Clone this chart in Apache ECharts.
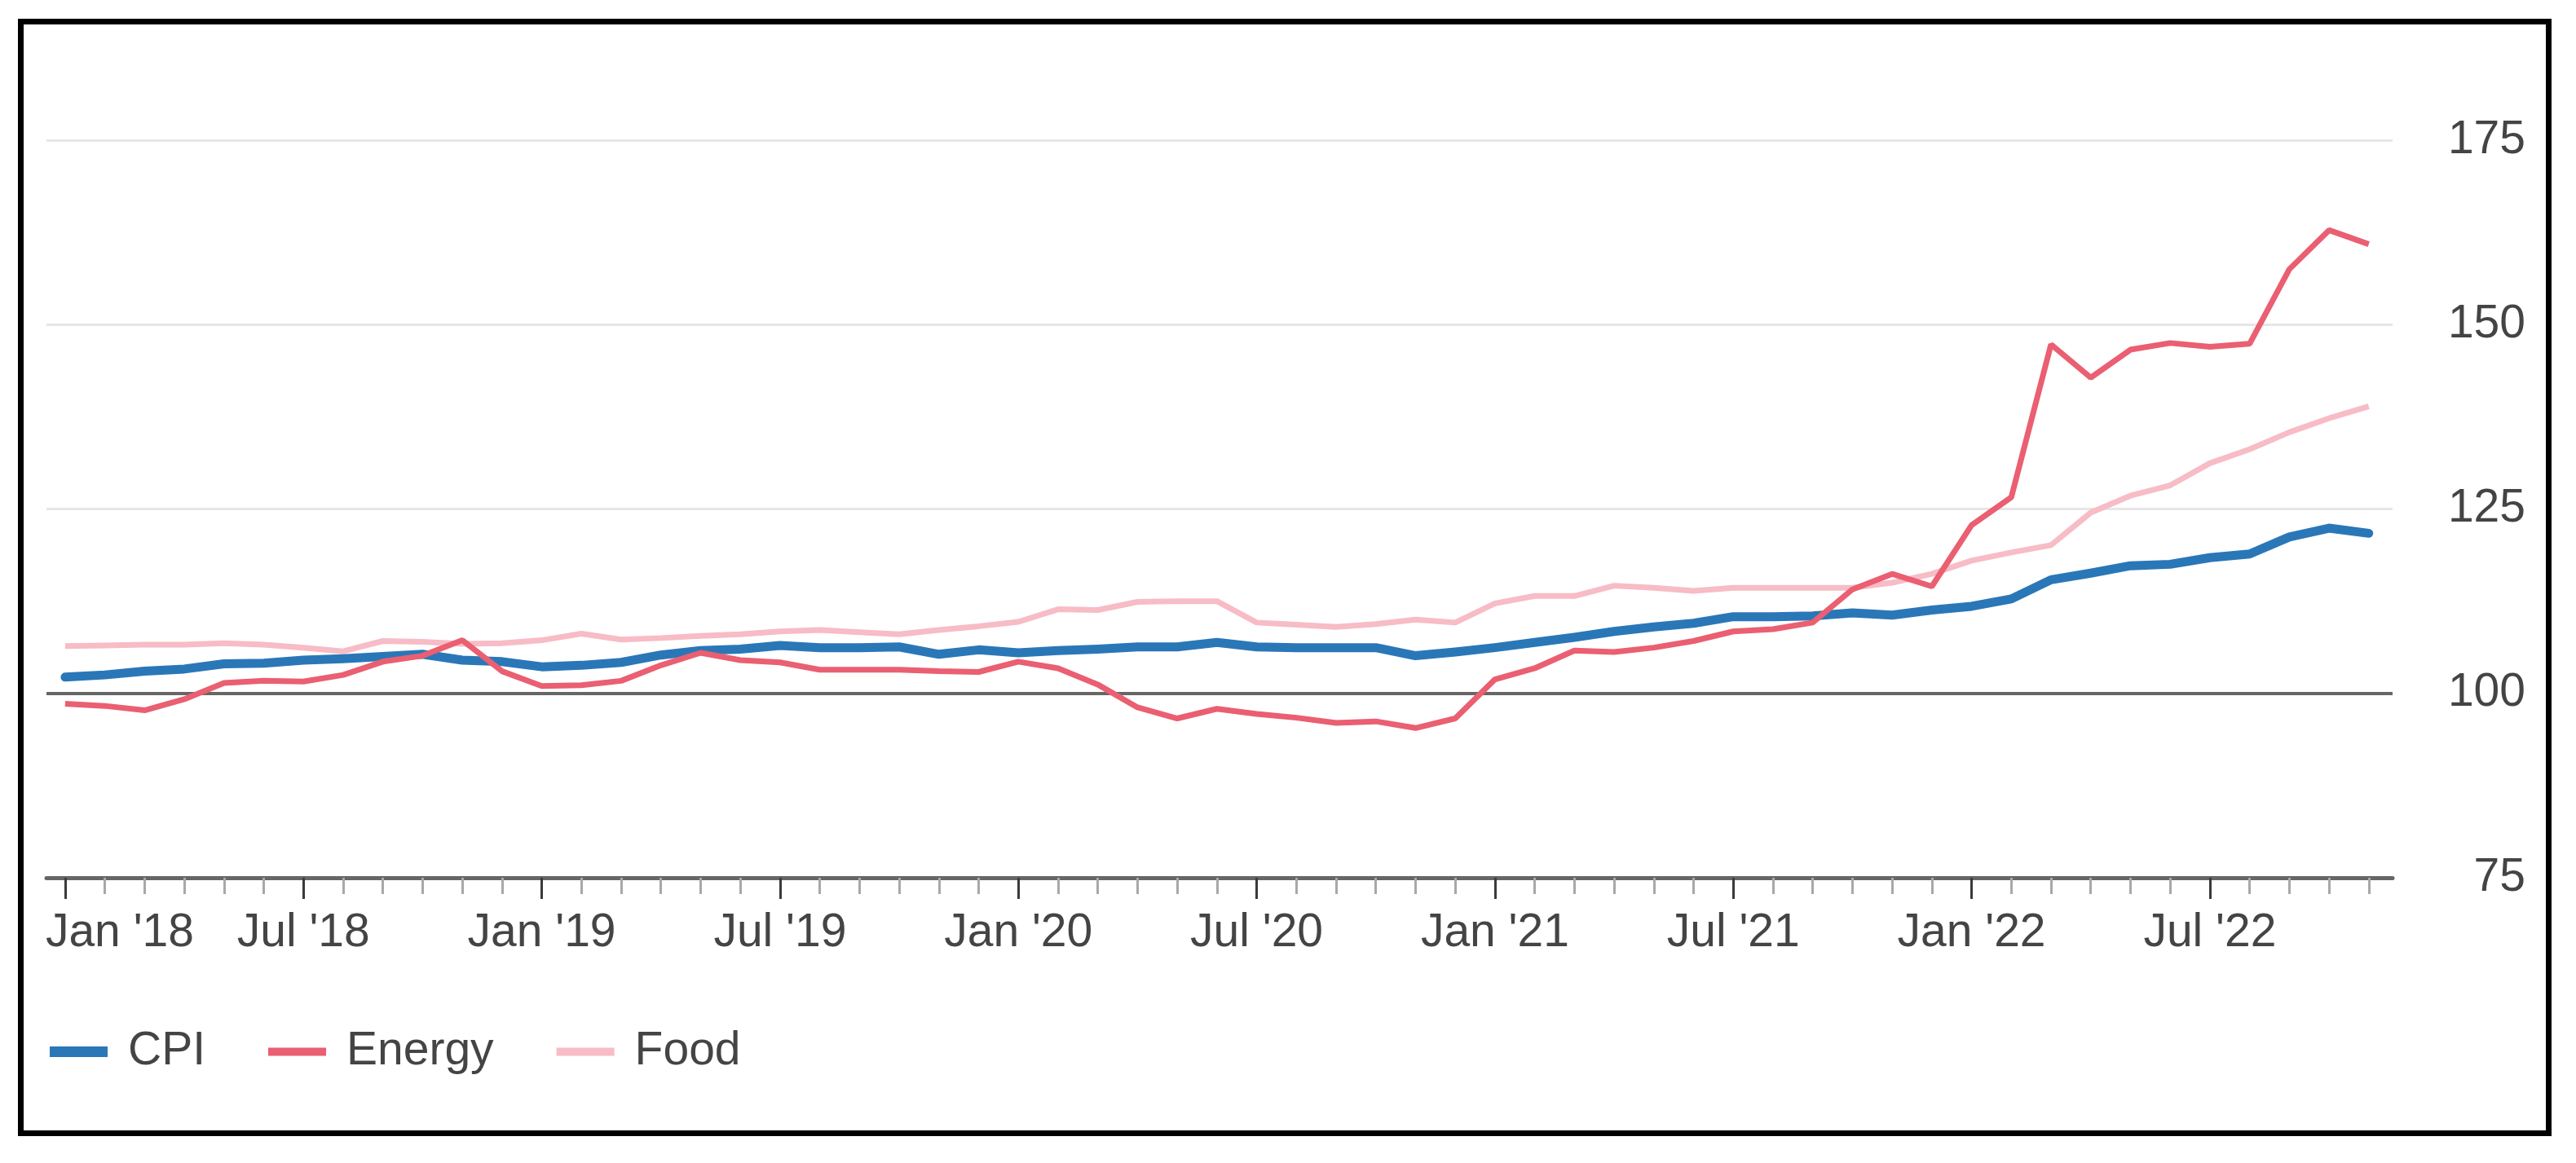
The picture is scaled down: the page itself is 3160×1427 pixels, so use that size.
<!DOCTYPE html>
<html>
<head>
<meta charset="utf-8">
<script src="https://cdn.jsdelivr.net/npm/echarts@6/dist/echarts.min.js"></script>
<style>
html,body{margin:0;padding:0;background:#fff;}
#chart{position:absolute;left:0;top:0;width:3160px;height:1427px;}
#frame{position:absolute;left:22px;top:23px;width:3108px;height:1371px;border:7px solid #000;box-sizing:border-box;pointer-events:none;}
</style>
</head>
<body>
<div id="chart"></div>
<div id="frame"></div>
<script>
const months = [
  "Jan 2018","Feb 2018","Mar 2018","Apr 2018","May 2018","Jun 2018","Jul 2018","Aug 2018","Sep 2018","Oct 2018","Nov 2018","Dec 2018",
  "Jan 2019","Feb 2019","Mar 2019","Apr 2019","May 2019","Jun 2019","Jul 2019","Aug 2019","Sep 2019","Oct 2019","Nov 2019","Dec 2019",
  "Jan 2020","Feb 2020","Mar 2020","Apr 2020","May 2020","Jun 2020","Jul 2020","Aug 2020","Sep 2020","Oct 2020","Nov 2020","Dec 2020",
  "Jan 2021","Feb 2021","Mar 2021","Apr 2021","May 2021","Jun 2021","Jul 2021","Aug 2021","Sep 2021","Oct 2021","Nov 2021","Dec 2021",
  "Jan 2022","Feb 2022","Mar 2022","Apr 2022","May 2022","Jun 2022","Jul 2022","Aug 2022","Sep 2022","Oct 2022","Nov 2022"
];
const tickLabels = ["Jan '18","Jul '18","Jan '19","Jul '19","Jan '20","Jul '20","Jan '21","Jul '21","Jan '22","Jul '22"];
const tickMonths = ["Jan 2018","Jul 2018","Jan 2019","Jul 2019","Jan 2020","Jul 2020","Jan 2021","Jul 2021","Jan 2022","Jul 2022"];
const yTicks = [75, 100, 125, 150, 175];

const cpi = [
  102.2,102.5,103.0,103.3,104.0,104.1,104.5,104.7,105.0,105.3,104.5,104.3,
  103.6,103.8,104.2,105.2,105.8,106.0,106.5,106.2,106.2,106.3,105.3,105.9,
  105.5,105.8,106.0,106.3,106.3,106.9,106.3,106.2,106.2,106.2,105.1,105.6,
  106.2,106.9,107.6,108.4,109.0,109.5,110.4,110.4,110.5,110.9,110.6,111.3,
  111.8,112.8,115.4,116.3,117.3,117.5,118.4,118.9,121.2,122.4,121.7
];
const energy = [
  98.6,98.3,97.7,99.2,101.4,101.7,101.6,102.5,104.3,105.1,107.2,103.0,
  101.0,101.1,101.7,103.8,105.5,104.5,104.2,103.2,103.2,103.2,103.0,102.9,
  104.3,103.4,101.2,98.1,96.6,97.9,97.2,96.7,96.0,96.2,95.3,96.6,
  101.9,103.4,105.8,105.6,106.2,107.1,108.4,108.7,109.6,114.1,116.2,114.5,
  122.8,126.6,147.3,142.8,146.6,147.5,147.0,147.4,157.5,162.8,160.9
];
const food = [
  106.4,106.5,106.6,106.6,106.8,106.6,106.2,105.7,107.1,107.0,106.7,106.8,
  107.2,108.1,107.3,107.5,107.8,108.0,108.4,108.6,108.3,108.0,108.6,109.1,
  109.7,111.4,111.3,112.4,112.5,112.5,109.6,109.3,109.0,109.4,110.0,109.6,
  112.2,113.2,113.2,114.6,114.3,113.9,114.3,114.3,114.3,114.3,115.0,116.2,
  118.0,119.1,120.1,124.5,126.8,128.2,131.2,133.1,135.4,137.3,138.9
];

const FONT = "'Liberation Sans', Arial, sans-serif";
const TXT = '#444';
const allIdx = months.map((m, i) => i);
const majorIdx = tickMonths.map(m => months.indexOf(m));
const xMin = -0.47, xMax = months.length - 1 + 0.6;
const toPairs = arr => arr.map((v, i) => [i, v]);

const chart = echarts.init(document.getElementById('chart'), null, {renderer: 'canvas'});
chart.setOption({
  animation: false,
  backgroundColor: '#fff',
  grid: {left: 57, right: 225, top: 172, bottom: 350, containLabel: false},
  legend: {
    left: 56, top: 1257,
    itemWidth: 71, itemHeight: 13, itemGap: 77,
    symbolKeepAspect: true,
    textStyle: {fontFamily: FONT, fontSize: 57, color: TXT, padding: [0, 0, 0, 20]},
    data: [
      {name: 'CPI', icon: 'path://M0,0H71V13H0Z'},
      {name: 'Energy', icon: 'path://M0,0H71V10H0Z'},
      {name: 'Food', icon: 'path://M0,0H71V10H0Z'}
    ]
  },
  xAxis: [
    {
      type: 'value', min: xMin, max: xMax, position: 'bottom',
      axisLine: {show: true, lineStyle: {color: '#666', width: 5}},
      axisTick: {show: true, customValues: allIdx, length: 20, lineStyle: {color: '#a8a8a8', width: 3}},
      axisLabel: {
        show: true, customValues: majorIdx, margin: 40,
        fontFamily: FONT, fontSize: 57, color: TXT,
        formatter: v => {
          const k = majorIdx.indexOf(Math.round(v));
          if (k < 0) return '';
          return k === 0 ? '{first|' + tickLabels[k] + '}' : tickLabels[k];
        },
        rich: {first: {fontFamily: FONT, fontSize: 57, color: TXT, padding: [0, 0, 0, 134]}}
      },
      splitLine: {show: false}
    },
    {
      type: 'value', min: xMin, max: xMax, position: 'bottom',
      axisLine: {show: false},
      axisTick: {show: true, customValues: majorIdx, length: 26, lineStyle: {color: '#3a3a3a', width: 3}},
      axisLabel: {show: false},
      splitLine: {show: false}
    }
  ],
  yAxis: [
    {
      type: 'value', min: yTicks[0], max: yTicks[yTicks.length - 1], interval: 25, position: 'right',
      axisLine: {show: false}, axisTick: {show: false},
      axisLabel: {show: true, align: 'right', margin: 163, fontFamily: FONT, fontSize: 57, color: TXT},
      splitLine: {show: true, lineStyle: {color: ['rgba(0,0,0,0)', 'rgba(0,0,0,0)', '#e6e6e6', '#e6e6e6', '#e6e6e6'], width: 3}}
    },
    {
      type: 'value', min: yTicks[0], max: yTicks[yTicks.length - 1], interval: 25, position: 'right',
      axisLine: {show: false}, axisTick: {show: false}, axisLabel: {show: false},
      splitLine: {show: true, lineStyle: {color: ['rgba(0,0,0,0)', '#666666', 'rgba(0,0,0,0)', 'rgba(0,0,0,0)', 'rgba(0,0,0,0)'], width: 4}}
    }
  ],
  series: [
    {name: 'CPI', type: 'line', xAxisIndex: 0, yAxisIndex: 0, data: toPairs(cpi), symbol: 'none', showSymbol: false,
     lineStyle: {color: '#2a77b8', width: 11, cap: 'round', join: 'round'}, itemStyle: {color: '#2a77b8'}, z: 3},
    {name: 'Energy', type: 'line', xAxisIndex: 0, yAxisIndex: 0, data: toPairs(energy), symbol: 'none', showSymbol: false,
     lineStyle: {color: '#ea5f71', width: 7}, itemStyle: {color: '#ea5f71'}, z: 4},
    {name: 'Food', type: 'line', xAxisIndex: 0, yAxisIndex: 0, data: toPairs(food), symbol: 'none', showSymbol: false,
     lineStyle: {color: '#f7bcc6', width: 7}, itemStyle: {color: '#f7bcc6'}, z: 2}
  ]
});
</script>
</body>
</html>
